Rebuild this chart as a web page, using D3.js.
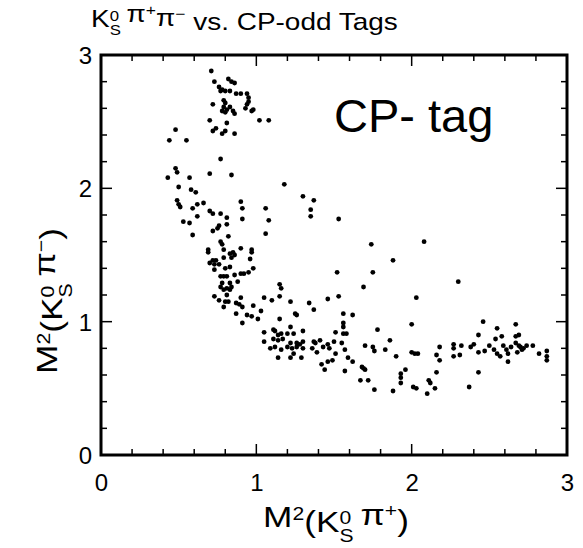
<!DOCTYPE html>
<html>
<head>
<meta charset="utf-8">
<script src="https://cdn.jsdelivr.net/npm/d3@7"></script>
<style>
  body { margin: 0; background: #fff; }
  text { font-family: "Liberation Sans", Arial, Helvetica, sans-serif; fill: #000; }
</style>
</head>
<body>
<div id="chart"></div>
<script>
// event positions: [M2(KS pi+), M2(KS pi-)]
let clusterTop = [
  [0.71,2.88],[0.73,2.80],[0.82,2.82],[0.84,2.80],[0.86,2.79],[0.76,2.76],[0.77,2.73],[0.78,2.74],[0.80,2.73],[0.83,2.73],
  [0.87,2.71],[0.90,2.71],[0.94,2.71],[0.95,2.68],[0.95,2.65],[0.94,2.63],[0.93,2.60],[0.97,2.58],[0.98,2.59],[0.72,2.63],
  [0.79,2.66],[0.80,2.64],[0.79,2.61],[0.78,2.58],[0.80,2.57],[0.81,2.59],[0.83,2.61],[0.85,2.58],[0.86,2.56],[1.02,2.51],
  [1.08,2.51],[0.70,2.51],[0.81,2.49],[0.74,2.45],[0.72,2.43],[0.80,2.43],[0.78,2.41],[0.86,2.41]
];

let bandLeft = [
  [0.48,2.44],[0.44,2.36],[0.55,2.36],[0.77,2.22],[0.48,2.15],[0.49,2.12],[0.43,2.08],[0.57,2.08],[0.70,2.11],[0.84,2.10],
  [0.50,2.01],[1.18,2.03],[0.58,1.99],[0.61,1.97],[1.30,1.94],[1.37,1.91],[1.35,1.84],[1.35,1.79],[1.53,1.77],[0.49,1.91],
  [0.50,1.88],[0.51,1.86],[0.62,1.88],[0.66,1.89],[0.59,1.85],[0.90,1.90],[0.91,1.85],[1.06,1.85],[0.70,1.83],[0.72,1.81],
  [0.77,1.81],[0.81,1.78],[0.62,1.79],[0.91,1.77],[1.08,1.76],[0.53,1.75],[0.57,1.74],[0.76,1.72],[0.75,1.70],[0.72,1.68],
  [0.81,1.73],[0.59,1.65],[0.82,1.64],[1.06,1.66],[0.77,1.60],[0.78,1.58],[0.90,1.55],[0.69,1.54],[0.97,1.54],
  [0.69,1.52],[0.79,1.54],[0.85,1.52],[0.83,1.51],[0.86,1.50],[0.97,1.52],[0.72,1.46],[0.74,1.46],[0.70,1.44],[0.73,1.43],
  [0.76,1.43],[0.73,1.39],[0.79,1.48],[0.84,1.48],[0.96,1.47],[0.98,1.40],[0.95,1.37],[0.80,1.40],[0.83,1.41],[0.77,1.34],
  [0.79,1.34],[0.81,1.34],[0.86,1.35],[0.90,1.36],[0.92,1.36],[0.78,1.29],[0.77,1.26],[0.79,1.24],[0.83,1.29],[0.84,1.26],
  [0.81,1.25],[0.83,1.24],[0.88,1.30],[0.81,1.20],[0.80,1.15],[0.82,1.15],[0.79,1.11],[0.73,1.19],[0.76,1.16],[0.90,1.18],
  [0.89,1.13],[0.91,1.11],[0.87,1.14],[0.87,1.06],[0.91,0.99],[0.94,1.05],[0.98,1.12],[0.97,1.04]
];

let bandBottom = [
  [1.01,1.02],[1.03,1.08],[1.05,1.18],[1.10,1.16],[1.15,1.28],[1.16,1.25],[1.15,1.19],[1.22,1.15],[1.25,1.06],[1.26,1.05],
  [1.15,1.02],[1.34,1.14],[1.37,1.09],[1.46,1.17],[1.52,1.37],[1.53,1.19],[1.22,0.96],[1.05,0.92],[1.05,0.85],[1.11,0.94],
  [1.12,0.93],[1.14,0.90],[1.16,0.91],[1.20,0.91],[1.24,0.91],[1.30,0.93],[1.11,0.87],[1.14,0.86],[1.17,0.87],[1.22,0.84],
  [1.26,0.84],[1.30,0.85],[1.09,0.80],[1.12,0.81],[1.16,0.79],[1.20,0.81],[1.23,0.80],[1.26,0.81],[1.28,0.83],[1.30,0.80],
  [1.14,0.73],[1.22,0.73],[1.24,0.76],[1.29,0.73],[1.36,0.80],[1.38,0.84],[1.41,0.86],[1.39,0.77],[1.43,0.81],[1.46,0.83],
  [1.50,0.85],[1.51,0.92],[1.47,0.80],[1.51,0.76],[1.42,0.68],[1.44,0.64],[1.46,0.70],[1.49,0.71],[1.37,0.85],
  [1.74,1.58],[2.08,1.60],[1.88,1.46],[1.75,1.37],[2.30,1.30],[1.69,1.26],[2.03,1.18],[1.56,1.06],[1.62,1.05],[1.56,0.99],
  [1.56,0.96],[1.56,0.91],[1.58,0.91],[1.78,0.94],[2.00,0.98],
  [1.55,0.84],[1.57,0.79],[1.59,0.73],[1.62,0.70],[1.57,0.63],[1.70,0.82],[1.75,0.81],[1.76,0.78],[1.83,0.79],[1.86,0.86],
  [1.90,0.74],[1.68,0.66],[1.70,0.64],[1.69,0.65],[1.67,0.56],[1.72,0.56],[1.76,0.49],[1.88,0.48],[1.93,0.61],[1.93,0.58],
  [1.93,0.54],[1.96,0.64],[2.00,0.77],[2.02,0.76],[2.04,0.76],[2.01,0.51],[2.03,0.50],[2.10,0.46],[2.11,0.56],[2.12,0.54],
  [2.15,0.50],[2.16,0.62],[2.16,0.75],[2.18,0.81],[2.18,0.71]
];

let tailRight = [
  [2.46,1.00],[2.55,0.95],[2.67,0.98],[2.43,0.90],[2.58,0.89],[2.67,0.89],[2.69,0.90],
  [2.27,0.83],[2.27,0.80],[2.32,0.82],[2.27,0.74],[2.31,0.75],[2.38,0.81],[2.40,0.83],[2.43,0.62],[2.37,0.51],[2.43,0.77],
  [2.47,0.78],[2.50,0.82],[2.53,0.79],[2.55,0.76],[2.57,0.74],[2.54,0.87],[2.59,0.82],[2.61,0.79],[2.62,0.76],[2.64,0.81],
  [2.67,0.84],[2.70,0.81],[2.71,0.79],[2.74,0.82],[2.78,0.82],[2.82,0.76],[2.87,0.78],[2.87,0.74],[2.87,0.71],[2.62,0.70],
  [2.68,0.77],[2.69,0.82],[2.72,0.80]
];

let tickLabels = [0, 1, 2, 3];
let minorTicks = d3.range(0, 3.001, 0.2);

drawScatter(clusterTop.concat(bandLeft, bandBottom, tailRight));

function drawScatter(data) {
  let margin = {top: 55, right: 16, bottom: 93, left: 101},
    width = 583 - margin.left - margin.right,
    height = 548 - margin.top - margin.bottom;

  let svg = d3.select("#chart")
    .append("svg")
    .attr("width", width + margin.left + margin.right)
    .attr("height", height + margin.top + margin.bottom);

  let g = svg.append("g")
    .attr("transform", "translate(" + margin.left + "," + margin.top + ")");

  let x = d3.scaleLinear().domain([0, 3]).range([0, width]);
  let y = d3.scaleLinear().domain([0, 3]).range([height, 0]);

  // inward ticks on all four sides
  let ticks = g.append("g")
    .attr("stroke", "#000")
    .attr("stroke-width", 1.5);
  minorTicks.forEach(function (v) {
    let isMajor = Math.abs(v - Math.round(v)) < 1e-6;
    let len = isMajor ? 11 : 6;
    ticks.append("line").attr("x1", x(v)).attr("x2", x(v)).attr("y1", height).attr("y2", height - len);
    ticks.append("line").attr("x1", x(v)).attr("x2", x(v)).attr("y1", 0).attr("y2", len);
    ticks.append("line").attr("y1", y(v)).attr("y2", y(v)).attr("x1", 0).attr("x2", len);
    ticks.append("line").attr("y1", y(v)).attr("y2", y(v)).attr("x1", width).attr("x2", width - len);
  });

  // frame
  g.append("rect")
    .attr("x", 0)
    .attr("y", 0)
    .attr("width", width)
    .attr("height", height)
    .attr("fill", "none")
    .attr("stroke", "#000")
    .attr("stroke-width", 3);

  // tick labels
  let xAxis = g.append("g")
    .attr("transform", "translate(0," + height + ")")
    .call(d3.axisBottom(x).tickValues(tickLabels).tickSize(0).tickPadding(19).tickFormat(d3.format("d")));
  xAxis.select(".domain").remove();
  xAxis.selectAll("text").style("font-size", "24px").attr("dy", "0.72em");

  let yAxis = g.append("g")
    .call(d3.axisLeft(y).tickValues(tickLabels).tickSize(0).tickPadding(9).tickFormat(d3.format("d")));
  yAxis.select(".domain").remove();
  yAxis.selectAll("text").style("font-size", "24px").attr("dy", "0.36em");

  // events
  g.selectAll("circle")
    .data(data)
    .enter()
    .append("circle")
    .attr("cx", d => x(d[0]))
    .attr("cy", d => y(d[1]))
    .attr("r", 2.4)
    .attr("fill", "#000");

  // annotation in the plot
  g.append("text")
    .attr("x", x(1.5))
    .attr("y", y(2.42))
    .style("font-size", "47px")
    .text("CP- tag");

  // title
  let title = svg.append("g")
    .attr("transform", "translate(91,27)")
    .append("text")
    .style("font-size", "24px");
  kShort(title);
  title.append("tspan").text("π");
  title.append("tspan").attr("dy", "-0.45em").style("font-size", "15px").text("+");
  title.append("tspan").attr("dy", "0.45em").text("π");
  title.append("tspan").attr("dy", "-0.45em").style("font-size", "15px").text("−");
  title.append("tspan").attr("dy", "0.45em").text(" vs. CP-odd Tags");
  stretchTo(title, 307);

  // x label
  let xl = svg.append("g")
    .attr("transform", "translate(336,527)")
    .append("text")
    .attr("text-anchor", "middle")
    .style("font-size", "30px");
  massLabel(xl, "+");
  stretchTo(xl, 146);

  // y label
  let yl = svg.append("g")
    .attr("transform", "translate(57,301) rotate(-90)")
    .append("text")
    .attr("text-anchor", "middle")
    .style("font-size", "30px");
  massLabel(yl, "−");
  stretchTo(yl, 146);
}

// widen a text horizontally so that it spans w pixels
function stretchTo(sel, w) {
  let bw = sel.node().getBBox().width;
  sel.attr("transform", "scale(" + (w / bw) + ",1)");
}

function kShort(t) {
  t.append("tspan").text("K");
  t.append("tspan").attr("dy", "-0.45em").style("font-size", "0.6em").text("0");
  t.append("tspan").attr("dx", "-0.556em").attr("dy", "1.0em").style("font-size", "0.6em").text("S");
  t.append("tspan").attr("dy", "-0.55em").text("\u2009");
}

function massLabel(t, charge) {
  t.append("tspan").text("M");
  t.append("tspan").attr("dy", "-0.4em").style("font-size", "0.6em").text("2");
  t.append("tspan").attr("dy", "0.4em").text("(K");
  t.append("tspan").attr("dy", "-0.45em").style("font-size", "0.6em").text("0");
  t.append("tspan").attr("dx", "-0.556em").attr("dy", "1.0em").style("font-size", "0.6em").text("S");
  t.append("tspan").attr("dy", "-0.55em").text("\u2009π");
  t.append("tspan").attr("dy", "-0.45em").style("font-size", "0.6em").text(charge);
  t.append("tspan").attr("dy", "0.45em").text(")");
}
</script>
</body>
</html>
